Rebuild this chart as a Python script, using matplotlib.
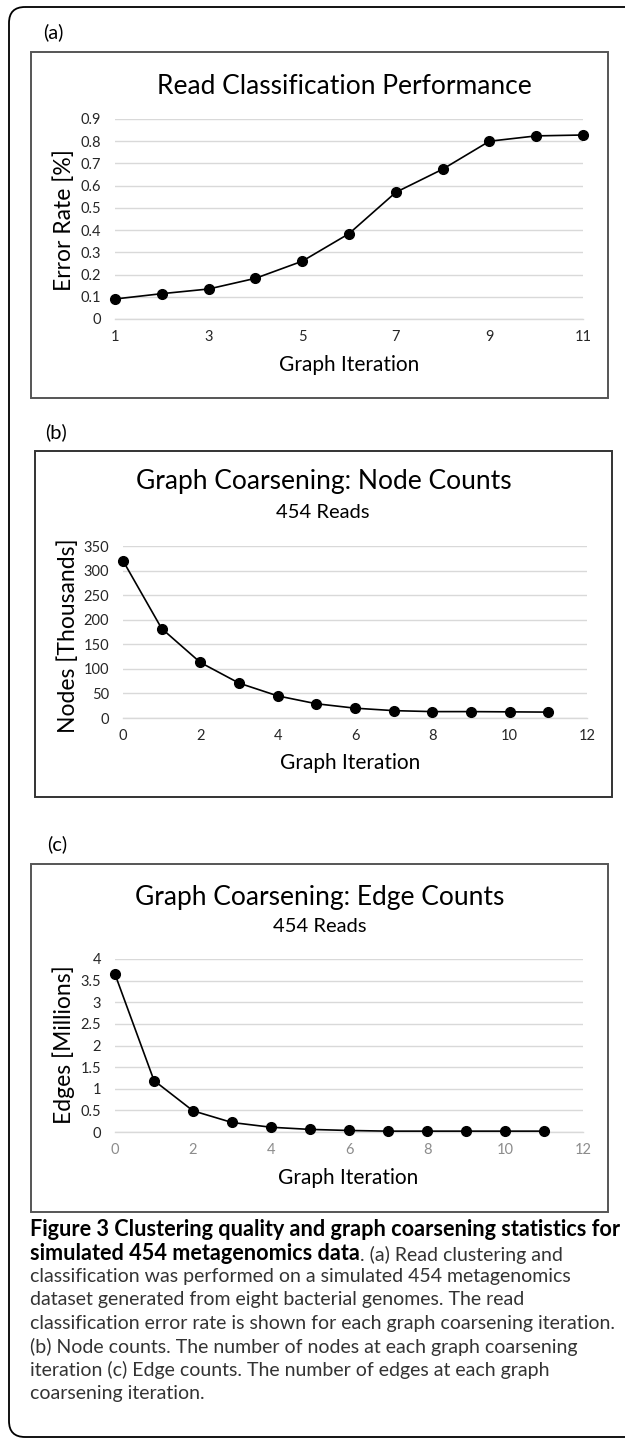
import matplotlib
matplotlib.use("Agg")
import matplotlib.pyplot as plt
from matplotlib.patches import FancyBboxPatch, Rectangle
from matplotlib.ticker import FuncFormatter

W, H = 625, 1441

# ---- data ----
ITER_A = [1, 2, 3, 4, 5, 6, 7, 8, 9, 10, 11]
ERROR_RATE = [0.09, 0.114, 0.135, 0.183, 0.26, 0.384, 0.57, 0.674, 0.80, 0.824, 0.828]

ITER_BC = [0, 1, 2, 3, 4, 5, 6, 7, 8, 9, 10, 11]
NODES_K = [320, 182, 113, 71, 45, 29, 20, 15, 13, 13, 12.5, 12]
EDGES_M = [3.65, 1.19, 0.49, 0.22, 0.11, 0.06, 0.035, 0.02, 0.02, 0.02, 0.02, 0.02]

XTICKS_A = [1, 3, 5, 7, 9, 11]
XTICKS_BC = [0, 2, 4, 6, 8, 10, 12]
YTICKS_A = [0, 0.1, 0.2, 0.3, 0.4, 0.5, 0.6, 0.7, 0.8, 0.9]
YTICKS_B = [0, 50, 100, 150, 200, 250, 300, 350]
YTICKS_C = [0, 0.5, 1, 1.5, 2, 2.5, 3, 3.5, 4]

CAPTION = [
    [("Figure 3 Clustering quality and graph coarsening statistics for", "bold")],
    [("simulated 454 metagenomics data", "bold"), (". (a) Read clustering and", "normal")],
    [("classification was performed on a simulated 454 metagenomics", "normal")],
    [("dataset generated from eight bacterial genomes. The read", "normal")],
    [("classification error rate is shown for each graph coarsening iteration.", "normal")],
    [("(b) Node counts. The number of nodes at each graph coarsening", "normal")],
    [("iteration (c) Edge counts. The number of edges at each graph", "normal")],
    [("coarsening iteration.", "normal")],
]

plt.rcParams.update({
    "font.family": ["Lato", "DejaVu Sans"],
})

fig = plt.figure(figsize=(W / 100, H / 100), dpi=100)

# background axes in pixel coordinates for frames and free text
bg = fig.add_axes([0, 0, 1, 1], zorder=0)
bg.set_xlim(0, W)
bg.set_ylim(H, 0)
bg.axis("off")


def px_rect(left, top, right, bottom):
    return [left / W, 1 - bottom / H, (right - left) / W, (bottom - top) / H]


# outer rounded frame (right side runs off the image)
bg.add_patch(FancyBboxPatch((9, 7), 660, 1430,
                            boxstyle="round,pad=0,rounding_size=16",
                            fill=False, edgecolor="black", linewidth=1.3))

PANELS = [
    dict(label="(a)", label_xy=(43, 32), box=(31, 52, 608, 398), edge="#555555",
         axes=(115, 119, 583, 319), x=ITER_A, y=ERROR_RATE, xlim=(1, 11),
         xticks=XTICKS_A, ylim=(0, 0.9), yticks=YTICKS_A,
         title="Read Classification Performance", title_xy=(344, 87), sub=None,
         ylabel="Error Rate [%]", ylabel_xy=(64, 220), xlabel_xy=(349, 365),
         xtick_color="#262626"),
    dict(label="(b)", label_xy=(45, 432), box=(35, 451, 612, 797), edge="#333333",
         axes=(123, 546, 587, 718), x=ITER_BC, y=NODES_K, xlim=(0, 12),
         xticks=XTICKS_BC, ylim=(0, 350), yticks=YTICKS_B,
         title="Graph Coarsening: Node Counts", title_xy=(324, 482),
         sub="454 Reads", sub_xy=(323, 513),
         ylabel="Nodes [Thousands]", ylabel_xy=(68, 636), xlabel_xy=(350, 763),
         xtick_color="#262626"),
    dict(label="(c)", label_xy=(47, 844), box=(31, 864, 608, 1212), edge="#555555",
         axes=(115, 959, 583, 1132), x=ITER_BC, y=EDGES_M, xlim=(0, 12),
         xticks=XTICKS_BC, ylim=(0, 4), yticks=YTICKS_C,
         title="Graph Coarsening: Edge Counts", title_xy=(320, 897),
         sub="454 Reads", sub_xy=(320, 927),
         ylabel="Edges [Millions]", ylabel_xy=(64, 1045), xlabel_xy=(348, 1178),
         xtick_color="#8c8c8c"),
]

for p in PANELS:
    l, t, r, b = p["box"]
    bg.add_patch(Rectangle((l, t), r - l, b - t, fill=False,
                           edgecolor=p["edge"], linewidth=1.4))
    bg.text(p["label_xy"][0], p["label_xy"][1], p["label"], fontsize=14.5,
            ha="left", va="center", color="black")
    bg.text(p["title_xy"][0], p["title_xy"][1], p["title"], fontsize=19,
            ha="center", va="center", color="black")
    if p["sub"]:
        bg.text(p["sub_xy"][0], p["sub_xy"][1], p["sub"], fontsize=14.5,
                ha="center", va="center", color="black")
    bg.text(p["ylabel_xy"][0], p["ylabel_xy"][1], p["ylabel"], fontsize=16.5,
            rotation=90, ha="center", va="center", color="black")
    bg.text(p["xlabel_xy"][0], p["xlabel_xy"][1], "Graph Iteration", fontsize=15,
            ha="center", va="center", color="black")

    ax = fig.add_axes(px_rect(*p["axes"]), zorder=2)
    ax.patch.set_alpha(0)
    ax.plot(p["x"], p["y"], color="black", linewidth=1.2, marker="o",
            markersize=7, clip_on=False, zorder=3)
    ax.set_xlim(*p["xlim"])
    ax.set_ylim(*p["ylim"])
    ax.set_xticks(p["xticks"])
    ax.set_yticks(p["yticks"])
    ax.yaxis.set_major_formatter(FuncFormatter(lambda v, _: f"{v:g}"))
    ax.grid(axis="y", color="#d9d9d9", linewidth=1.0, zorder=0)
    ax.set_axisbelow(True)
    for s in ("top", "right", "left"):
        ax.spines[s].set_visible(False)
    ax.spines["bottom"].set_color("#d9d9d9")
    ax.spines["bottom"].set_linewidth(1.0)
    ax.tick_params(axis="both", length=0, labelsize=10.5)
    ax.tick_params(axis="y", pad=10, labelcolor="#262626")
    ax.tick_params(axis="x", pad=8, labelcolor=p["xtick_color"])

# caption with mixed bold / regular runs
cap_x, cap_y0, cap_dy = 30, 1230, 23.3
CAP_SIZE = {"bold": 15.55, "normal": 14}
for i, line in enumerate(CAPTION):
    prev = None
    for text, weight in line:
        color = "black" if weight == "bold" else "#333333"
        if prev is None:
            prev = bg.text(cap_x, cap_y0 + i * cap_dy, text, fontsize=CAP_SIZE[weight],
                           fontweight=weight, color=color, ha="left", va="center")
        else:
            prev = bg.annotate(text, xy=(1, 0), xycoords=prev, fontsize=CAP_SIZE[weight],
                               fontweight=weight, color=color, ha="left", va="bottom")

fig.savefig("out.png", dpi=100)
